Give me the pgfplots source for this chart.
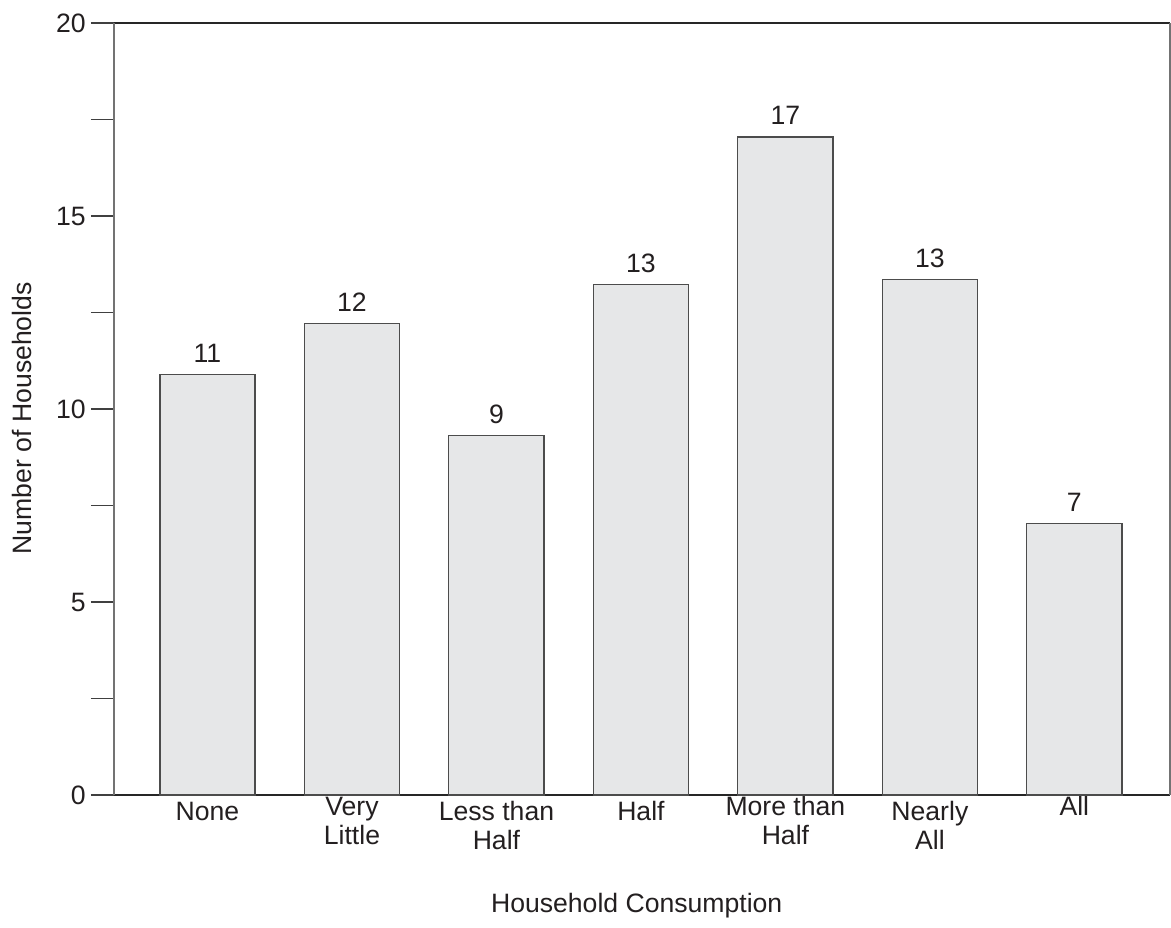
\documentclass[border=0pt]{standalone}
\usepackage{fontspec}
\setmainfont{Liberation Sans}
\usepackage{pgfplots}
\pgfplotsset{compat=1.18}
\definecolor{barfill}{HTML}{E6E7E8}
\definecolor{txt}{HTML}{231F20}
\pgfplotstableread{
x y lab
0 10.90 11
1 12.21 12
2 9.31 9
3 13.22 13
4 17.05 17
5 13.35 13
6 7.03 7
}\bardata
\newcommand{\tl}[1]{\begin{tabular}{@{}c@{}}#1\end{tabular}}
\newcommand{\up}[1]{\raisebox{2.5pt}[\height][\depth]{#1}}
\begin{document}
\fontsize{13.3}{14.8}\selectfont
\begin{tikzpicture}
\begin{axis}[
  scale only axis, width=528pt, height=386pt,
  xmin=-0.647, xmax=6.662, ymin=0, ymax=20,
  ytick={0,5,10,15,20}, minor ytick={2.5,7.5,12.5,17.5},
  ytick pos=left, xtick pos=lower, tick align=outside,
  major tick length=11.5pt, minor tick length=11.5pt,
  xtick={0,1,2,3,4,5,6},
  xticklabels={
    {\tl{None}},
    {\up{\tl{Very\\Little}}},
    {\tl{Less than\\Half}},
    {\tl{Half}},
    {\up{\tl{More than\\Half}}},
    {\tl{Nearly\\All}},
    {\up{\tl{All}}}},
  x tick style={draw=none},
  y tick style={black!75, line width=0.7pt},
  separate axis lines,
  every outer x axis line/.append style={black!85, line width=0.7pt},
  every outer y axis line/.append style={black!55, line width=0.7pt},
  every tick label/.append style={text=txt, font=\fontsize{13.3}{14.8}\selectfont},
  xticklabel style={anchor=north, inner sep=0pt, yshift=9.5pt},
  yticklabel style={anchor=east, inner sep=0pt, xshift=-2.5pt},
  /pgf/number format/assume math mode=true,
  xlabel={Household Consumption},
  ylabel={Number of Households},
  xlabel style={at={(axis description cs:0.495,-0.1528)}, anchor=base, text=txt, font=\fontsize{13.3}{14.8}\selectfont},
  ylabel style={at={(axis description cs:-0.0777,0.488)}, anchor=base, rotate=0, text=txt, font=\fontsize{13.3}{14.8}\selectfont},
]
\addplot[ybar, bar width=0.66, fill=barfill, draw=black!70, line width=0.7pt,
  point meta=explicit symbolic, nodes near coords,
  nodes near coords style={anchor=base, inner sep=0pt, yshift=6pt, text=txt, font=\fontsize{13.3}{14.8}\selectfont}]
  table[x=x, y=y, meta=lab] {\bardata};
\end{axis}
\path (current axis.south west) ++(-57pt,-63.5pt);
\path (current axis.north east) ++(0.5pt,11.5pt);
\end{tikzpicture}
\end{document}
